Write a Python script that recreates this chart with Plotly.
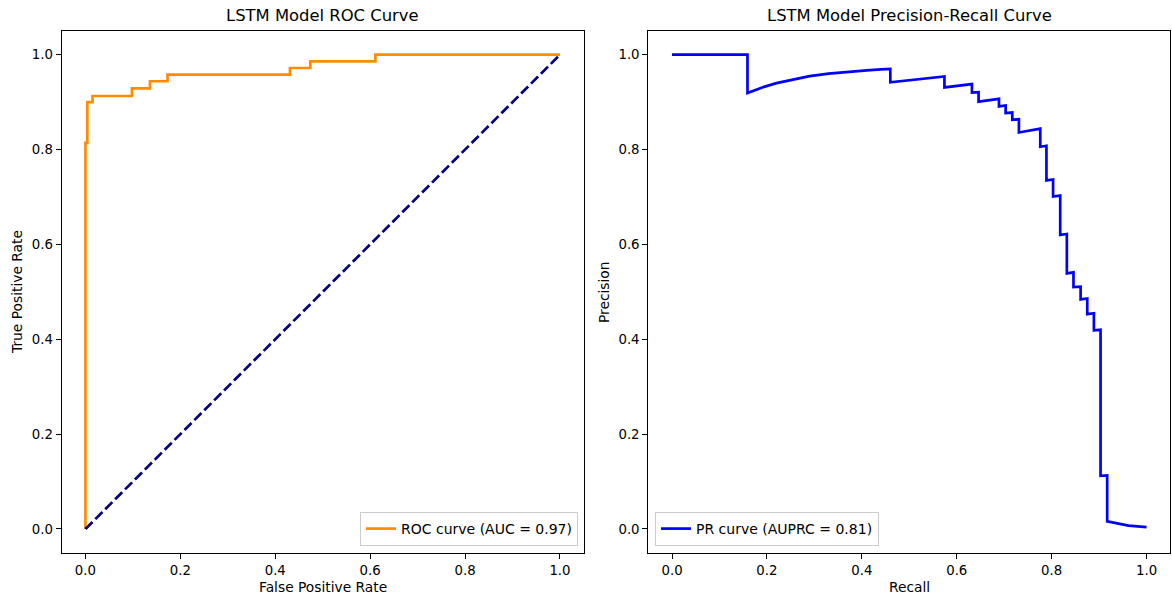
import plotly.graph_objects as go

# ---- data ----
roc_fpr = [0.0, 0.0, 0.004, 0.004, 0.015, 0.015, 0.098, 0.098, 0.136, 0.136,
           0.173, 0.173, 0.431, 0.431, 0.474, 0.474, 0.611, 0.611, 1.0]
roc_tpr = [0.0, 0.814, 0.814, 0.900, 0.900, 0.913, 0.913, 0.929, 0.929, 0.944,
           0.944, 0.958, 0.958, 0.972, 0.972, 0.986, 0.986, 1.0, 1.0]
chance_x = [0.0, 1.0]
chance_y = [0.0, 1.0]

pr_recall = [0.0, 0.159, 0.159, 0.190, 0.22, 0.26, 0.29, 0.33, 0.37, 0.41, 0.44, 0.460,
             0.460, 0.574, 0.574, 0.632, 0.632, 0.646, 0.646, 0.689, 0.689,
             0.703, 0.703, 0.717, 0.717, 0.731, 0.731, 0.776, 0.776, 0.789, 0.789,
             0.803, 0.803, 0.818, 0.818, 0.832, 0.832, 0.846, 0.846, 0.861, 0.861,
             0.875, 0.875, 0.889, 0.889, 0.903, 0.903, 0.917, 0.917, 0.933, 0.947,
             0.962, 1.0]
pr_precision = [1.0, 1.0, 0.919, 0.931, 0.940, 0.949, 0.955, 0.960, 0.964, 0.967, 0.969, 0.970,
                0.942, 0.954, 0.931, 0.938, 0.920, 0.921, 0.901, 0.907, 0.891,
                0.893, 0.877, 0.878, 0.863, 0.864, 0.836, 0.844, 0.806, 0.808, 0.735,
                0.737, 0.701, 0.703, 0.620, 0.622, 0.539, 0.541, 0.510, 0.511, 0.484,
                0.486, 0.453, 0.455, 0.419, 0.420, 0.112, 0.113, 0.016, 0.013, 0.010,
                0.007, 0.004]

tick_vals = [0.0, 0.2, 0.4, 0.6, 0.8, 1.0]
tick_text = ["0.0", "0.2", "0.4", "0.6", "0.8", "1.0"]
roc_auc = 0.97
auprc = 0.81

FONT = "DejaVu Sans"
W, H = 1172, 596

fig = go.Figure()
fig.add_trace(go.Scatter(
    x=roc_fpr, y=roc_tpr, mode="lines",
    line=dict(color="#FF8C00", width=2.7),
    name=f"ROC curve (AUC = {roc_auc:.2f})",
    xaxis="x", yaxis="y", legend="legend"))
fig.add_trace(go.Scatter(
    x=chance_x, y=chance_y, mode="lines",
    line=dict(color="navy", width=2.7, dash="10px,4px"),
    showlegend=False, xaxis="x", yaxis="y"))
fig.add_trace(go.Scatter(
    x=pr_recall, y=pr_precision, mode="lines",
    line=dict(color="blue", width=2.7),
    name=f"PR curve (AUPRC = {auprc:.2f})",
    xaxis="x2", yaxis="y2", legend="legend2"))

ydom = [1 - 552.7 / H, 1 - 31.0 / H]
x1dom = [61.7 / W, 583.7 / W]
x2dom = [648.3 / W, 1170.3 / W]

axis_common = dict(
    range=[-0.05, 1.05], tickvals=tick_vals, ticktext=tick_text,
    showgrid=False, zeroline=False, showline=True, mirror=True,
    linecolor="black", linewidth=1.1, ticks="outside", ticklen=5,
    tickwidth=1.1, tickcolor="black",
    tickfont=dict(family=FONT, size=13.3, color="black"))

legend_common = dict(
    yanchor="bottom", y=1 - 546 / H,
    bgcolor="rgba(255,255,255,0.8)", bordercolor="#cccccc",
    borderwidth=1, font=dict(family=FONT, size=14, color="black"),
    itemwidth=30)

fig.update_layout(
    width=W, height=H,
    margin=dict(l=0, r=0, t=0, b=0),
    paper_bgcolor="white", plot_bgcolor="white",
    font=dict(family=FONT, size=13, color="black"),
    xaxis=dict(domain=x1dom, anchor="y", **axis_common),
    yaxis=dict(domain=ydom, anchor="x", **axis_common),
    xaxis2=dict(domain=x2dom, anchor="y2", **axis_common),
    yaxis2=dict(domain=ydom, anchor="x2", **axis_common),
    legend=dict(x=578 / W, xanchor="right", **legend_common),
    legend2=dict(x=655 / W, xanchor="left", **legend_common),
    showlegend=True,
)

c1 = (x1dom[0] + x1dom[1]) / 2
c2 = (x2dom[0] + x2dom[1]) / 2
ann = [
    dict(text="LSTM Model ROC Curve", x=c1, y=1 - 16 / H, size=16.4),
    dict(text="LSTM Model Precision-Recall Curve", x=c2, y=1 - 16 / H, size=16.4),
    dict(text="False Positive Rate", x=c1, y=1 - 587 / H, size=13.8),
    dict(text="Recall", x=c2, y=1 - 587 / H, size=13.8),
    dict(text="True Positive Rate", x=17 / W, y=1 - 292 / H, angle=-90, size=13.8),
    dict(text="Precision", x=604 / W, y=1 - 292 / H, angle=-90, size=13.8),
]
for a in ann:
    fig.add_annotation(xref="paper", yref="paper", showarrow=False,
                       xanchor="center", yanchor="middle",
                       x=a["x"], y=a["y"], text=a["text"],
                       textangle=a.get("angle", 0),
                       font=dict(family=FONT, color="black", size=a["size"]))

fig.write_html("out.html")
